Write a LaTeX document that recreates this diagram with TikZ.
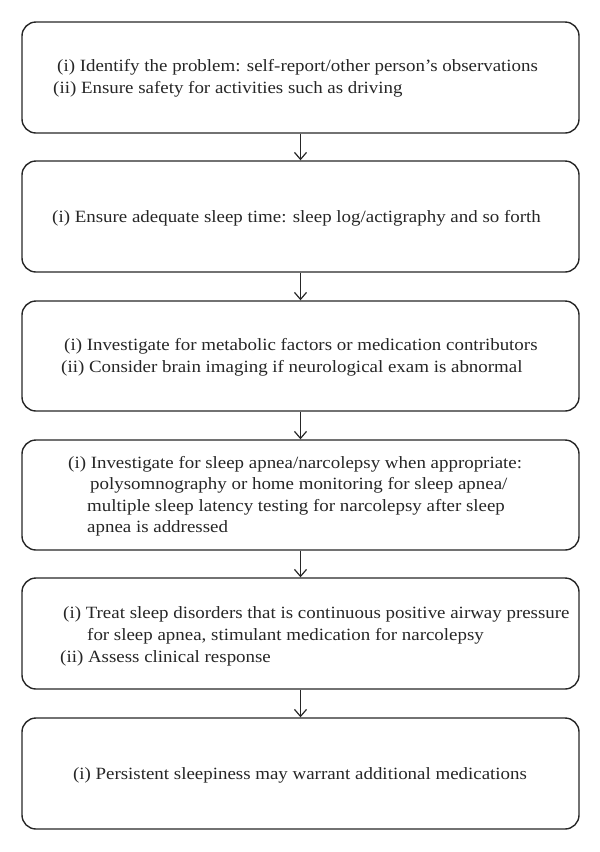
\documentclass[tikz,border=0pt]{standalone}
\usepackage{fontspec}
\setmainfont{Liberation Serif}[FakeStretch=1.10]
\usetikzlibrary{arrows.meta}
\definecolor{ink}{HTML}{262626}
\tikzset{
  box/.style={draw=ink, line width=1.4pt, rounded corners=14pt, minimum width=557pt, inner sep=0pt},
  txt/.style={anchor=base west, inner sep=0pt, text=ink, font=\fontsize{17.2}{20}\selectfont},
  ctxt/.style={anchor=base, inner sep=0pt, text=ink, font=\fontsize{17.2}{20}\selectfont},
  flow/.style={draw=ink, line width=1.2pt, -{Straight Barb[length=7pt,width=12pt]}}
}
\begin{document}
\begin{tikzpicture}[x=1pt,y=-1pt]
\useasboundingbox (0,0) rectangle (600,852);
% boxes
\node[box, minimum height=111pt] (b1) at (300.5,77.5) {};
\node[box, minimum height=111pt] (b2) at (300.5,216.5) {};
\node[box, minimum height=110pt] (b3) at (300.5,356) {};
\node[box, minimum height=110pt] (b4) at (300.5,495) {};
\node[box, minimum height=111pt] (b5) at (300.5,633.5) {};
\node[box, minimum height=111pt] (b6) at (300.5,773.5) {};
% texts
\node[txt] (t1a) at (57,71.5) {(i) Identify the problem: self-report/other person’s observations};
\node[txt] (t1b) at (53,93.5) {(ii) Ensure safety for activities such as driving};
\node[txt] (t2a) at (52,222) {(i) Ensure adequate sleep time: sleep log/actigraphy and so forth};
\node[txt] (t3a) at (64,350.5) {(i) Investigate for metabolic factors or medication contributors};
\node[txt] (t3b) at (61,372.5) {(ii) Consider brain imaging if neurological exam is abnormal};
\node[txt] (t4a) at (68,468) {(i) Investigate for sleep apnea/narcolepsy when appropriate:};
\node[txt] (t4b) at (90,489.5) {polysomnography or home monitoring for sleep apnea/};
\node[txt] (t4c) at (87,511) {multiple sleep latency testing for narcolepsy after sleep};
\node[txt] (t4d) at (87,532.5) {apnea is addressed};
\node[txt] (t5a) at (63,618) {(i) Treat sleep disorders that is continuous positive airway pressure};
\node[txt] (t5b) at (87,640) {for sleep apnea, stimulant medication for narcolepsy};
\node[txt] (t5c) at (60,662) {(ii) Assess clinical response};
\node[ctxt] (t6a) at (300,779) {(i) Persistent sleepiness may warrant additional medications};
% arrows
\draw[flow] (b1.south) -- (b2.north);
\draw[flow] (b2.south) -- (b3.north);
\draw[flow] (b3.south) -- (b4.north);
\draw[flow] (b4.south) -- (b5.north);
\draw[flow] (b5.south) -- (b6.north);
\end{tikzpicture}
\end{document}
